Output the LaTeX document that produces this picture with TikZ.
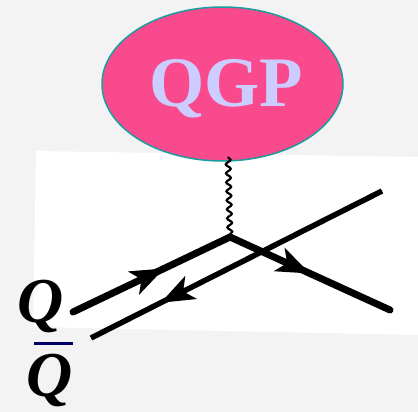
\documentclass[tikz,border=0pt]{standalone}
\usepackage{fontspec}
\setmainfont{Liberation Serif}
\usetikzlibrary{shapes.geometric,arrows.meta,decorations.pathmorphing,decorations.markings}
\definecolor{bg}{HTML}{F3F3F3}
\definecolor{qgpfill}{HTML}{FA4A8E}
\definecolor{qgpedge}{HTML}{1A9C9C}
\definecolor{qgptext}{HTML}{CCCCFF}
\definecolor{barnavy}{HTML}{000066}
\tikzset{
  fermion/.style={line width=7pt, line cap=round, postaction={decorate},
    decoration={markings, mark=at position #1 with {\arrow[line width=0pt]{Stealth[length=34pt,width=26pt,inset=9pt]}}}},
  gluon/.style={line width=2.2pt, decorate,
    decoration={snake, amplitude=2.4pt, segment length=9pt}},
  qlabel/.style={font=\fontsize{64}{64}\selectfont\bfseries\itshape, inner sep=0pt, anchor=base}
}
\begin{document}
\begin{tikzpicture}[x=1pt,y=-1pt]
\fill[bg] (0,0) rectangle (418,412);
\useasboundingbox (0,0) rectangle (418,412);
\fill[white] (36,151) -- (418,157) -- (418,335) -- (33,327) -- cycle;
% ellipse
\node[ellipse, draw=qgpedge, fill=qgpfill, line width=1.5pt, minimum width=241pt, minimum height=154pt, inner sep=0pt] (qgp) at (222.5,84) {};
\node[font=\fontsize{71}{71}\selectfont\bfseries, text=qgptext, inner sep=0pt] (qgptxt) at (226,89) {QGP};
% vertices
\coordinate (v) at (230,237);
\coordinate (gtop) at (228,157);
\coordinate (qin) at (73,312);
\coordinate (qout) at (390,310);
\coordinate (abar1) at (382,191);
\coordinate (abar2) at (91,338);
\draw[gluon] (gtop) -- (v);
\draw[fermion=0.58] (qin) -- (v);
\draw[fermion=0.5] (v) -- (qout);
\draw[fermion=0.76, line width=5.5pt, line cap=butt] (abar1) -- (abar2);
% labels
\node[qlabel] (q) at (41,322) {Q};
\node[qlabel] (qbar) at (50,396) {Q};
\draw[barnavy, line width=3pt] (34,343) -- (73,343);
\end{tikzpicture}
\end{document}
